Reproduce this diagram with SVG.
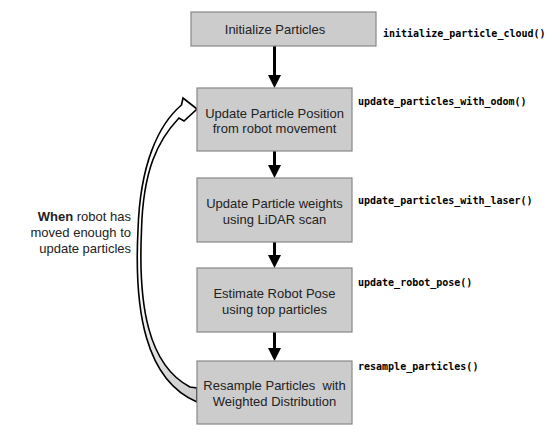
<svg xmlns="http://www.w3.org/2000/svg" width="560" height="435" viewBox="0 0 560 435">
<style>
.box{fill:#cccccc;stroke:#888888;stroke-width:1.2}
.lbl{font-family:"Liberation Sans",Arial,sans-serif;font-size:13px;fill:#222;text-anchor:middle}
.code{font-family:"DejaVu Sans Mono","Liberation Mono",monospace;font-size:10px;font-weight:bold;fill:#000}
.side{font-family:"Liberation Sans",Arial,sans-serif;font-size:13px;fill:#222;text-anchor:end}
.ln{stroke:#000;stroke-width:3;fill:none}
.hd{fill:#000}
</style>
<defs>
<linearGradient id="g" gradientUnits="userSpaceOnUse" x1="0" y1="98" x2="0" y2="402">
<stop offset="0" stop-color="#fff"/>
<stop offset="0.6" stop-color="#fff"/>
<stop offset="1" stop-color="#cccccc"/>
</linearGradient>
</defs>
<g id="connectors">
<path d="M197,109 L183,98 L181.5,105 C158,125 140,165 138,230 C134,310 145,380 197,402 L197,388 L190,387 C148,365 138,305 141.5,230 C143,170 158,140 179,118 L184,121 Z" fill="url(#g)" stroke="#000" stroke-width="1.6" stroke-linejoin="miter"/>
<line class="ln" x1="274.5" y1="46" x2="274.5" y2="77"/>
<polygon class="hd" points="268,75 281,75 274.5,88"/>
<line class="ln" x1="274.5" y1="151" x2="274.5" y2="167"/>
<polygon class="hd" points="268,165 281,165 274.5,178"/>
<line class="ln" x1="274.5" y1="242" x2="274.5" y2="257"/>
<polygon class="hd" points="268,255 281,255 274.5,268"/>
<line class="ln" x1="274.5" y1="332" x2="274.5" y2="350"/>
<polygon class="hd" points="268,348 281,348 274.5,361"/>
</g>
<g id="n1">
<rect class="box" x="191" y="12" width="185" height="34"/>
<text class="lbl" x="275" y="34">Initialize Particles</text>
<text class="code" x="383" y="37">initialize_particle_cloud()</text>
</g>
<g id="n2">
<rect class="box" x="197" y="88" width="155" height="63"/>
<text class="lbl" x="274.5" y="117.5">Update Particle Position</text>
<text class="lbl" x="274.5" y="133">from robot movement</text>
<text class="code" x="358" y="105">update_particles_with_odom()</text>
</g>
<g id="n3">
<rect class="box" x="197" y="178" width="155" height="64"/>
<text class="lbl" x="274.5" y="208">Update Particle weights</text>
<text class="lbl" x="274.5" y="224">using LiDAR scan</text>
<text class="code" x="358" y="203.5">update_particles_with_laser()</text>
</g>
<g id="n4">
<rect class="box" x="197" y="268" width="155" height="64"/>
<text class="lbl" x="274.5" y="298">Estimate Robot Pose</text>
<text class="lbl" x="274.5" y="314">using top particles</text>
<text class="code" x="358" y="286">update_robot_pose()</text>
</g>
<g id="n5">
<rect class="box" x="197" y="361" width="155" height="63"/>
<text class="lbl" x="274.5" y="390" xml:space="preserve">Resample Particles  with</text>
<text class="lbl" x="274.5" y="406">Weighted Distribution</text>
<text class="code" x="358" y="369.5">resample_particles()</text>
</g>
<g id="loop-label">
<text class="side" x="131" y="221"><tspan font-weight="bold">When</tspan> robot has</text>
<text class="side" x="131" y="237">moved enough to</text>
<text class="side" x="131" y="253">update particles</text>
</g>
</svg>
